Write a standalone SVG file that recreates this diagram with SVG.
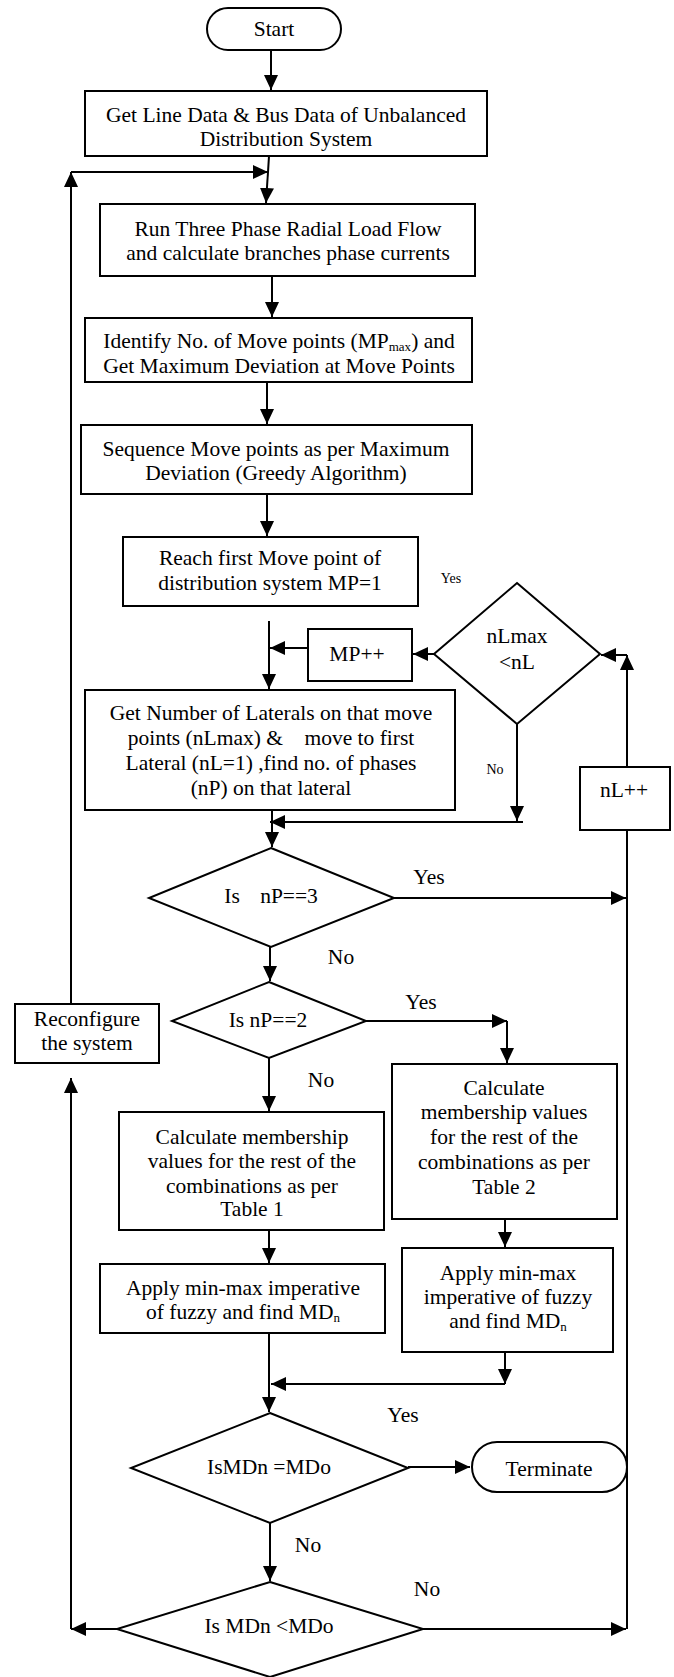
<svg xmlns="http://www.w3.org/2000/svg" width="674" height="1677" viewBox="0 0 674 1677">
<style>
.b{fill:#fff;stroke:#000;stroke-width:2}
.t{font-family:"Liberation Serif","Times New Roman",serif;font-size:21.5px;fill:#000;text-anchor:middle}
.s{font-family:"Liberation Serif","Times New Roman",serif;font-size:14px;fill:#000;text-anchor:middle}
.c{fill:none;stroke:#000;stroke-width:2}
.a{marker-end:url(#ah)}
</style>
<defs>
<marker id="ah" markerUnits="userSpaceOnUse" markerWidth="15" markerHeight="14" refX="15" refY="7" orient="auto">
<path d="M0,0 L15,7 L0,14 z" fill="#000"/>
</marker>
</defs>
<rect width="674" height="1677" fill="#fff"/>
<g id="connectors">
<line class="c a" x1="271" y1="50" x2="271" y2="90"/>
<line class="c a" x1="269" y1="156" x2="266" y2="203"/>
<line class="c a" x1="71" y1="1004" x2="71" y2="172"/>
<line class="c a" x1="71" y1="172" x2="268" y2="172"/>
<line class="c a" x1="272" y1="276" x2="272" y2="317"/>
<line class="c a" x1="267" y1="382" x2="267" y2="424"/>
<line class="c a" x1="267" y1="494" x2="267" y2="536"/>
<line class="c a" x1="269" y1="621" x2="269" y2="689"/>
<line class="c a" x1="308" y1="648" x2="270" y2="648"/>
<line class="c a" x1="434" y1="654" x2="413" y2="654"/>
<line class="c a" x1="627" y1="767" x2="627" y2="655"/>
<line class="c a" x1="627" y1="655" x2="601" y2="655"/>
<line class="c a" x1="517" y1="724" x2="517" y2="821"/>
<line class="c a" x1="523" y1="822" x2="270" y2="822"/>
<line class="c a" x1="272" y1="810" x2="272" y2="847"/>
<line class="c a" x1="394" y1="898" x2="626" y2="898"/>
<line class="c a" x1="270" y1="947" x2="270" y2="981"/>
<line class="c a" x1="366" y1="1021" x2="507" y2="1021"/>
<line class="c a" x1="507" y1="1021" x2="507" y2="1063"/>
<line class="c a" x1="269" y1="1058" x2="269" y2="1111"/>
<line class="c a" x1="269" y1="1230" x2="269" y2="1263"/>
<line class="c a" x1="505" y1="1219" x2="505" y2="1247"/>
<line class="c a" x1="505" y1="1352" x2="505" y2="1384"/>
<line class="c a" x1="505" y1="1384" x2="271" y2="1384"/>
<line class="c a" x1="269" y1="1333" x2="269" y2="1412"/>
<line class="c a" x1="408" y1="1467" x2="470" y2="1467"/>
<line class="c a" x1="270" y1="1523" x2="270" y2="1581"/>
<line class="c a" x1="117" y1="1629" x2="71" y2="1629"/>
<line class="c a" x1="423" y1="1629" x2="626" y2="1629"/>
<line class="c a" x1="71" y1="1629" x2="71" y2="1078"/>
<line class="c" x1="627" y1="1629" x2="627" y2="830"/>
</g>
<g id="start">
<rect class="b" x="207" y="8" width="134" height="42" rx="21"/>
<text class="t" x="274" y="36">Start</text>
</g>
<g id="getdata">
<rect class="b" x="85" y="91" width="402" height="65"/>
<text class="t" x="286" y="122">Get Line Data &amp; Bus Data of Unbalanced</text>
<text class="t" x="286" y="146">Distribution System</text>
</g>
<g id="loadflow">
<rect class="b" x="100" y="204" width="375" height="72"/>
<text class="t" x="288" y="236">Run Three Phase Radial Load Flow</text>
<text class="t" x="288" y="260">and calculate branches phase currents</text>
</g>
<g id="identify">
<rect class="b" x="85" y="318" width="387" height="64"/>
<text class="t" x="279" y="348">Identify No. of Move points (MP<tspan font-size="13" dy="3">max</tspan><tspan dy="-3">) and</tspan></text>
<text class="t" x="279" y="373">Get Maximum Deviation at Move Points</text>
</g>
<g id="sequence">
<rect class="b" x="81" y="425" width="391" height="69"/>
<text class="t" x="276" y="456">Sequence Move points as per Maximum</text>
<text class="t" x="276" y="480">Deviation (Greedy Algorithm)</text>
</g>
<g id="reach">
<rect class="b" x="123" y="537" width="295" height="69"/>
<text class="t" x="270" y="565">Reach first Move point of</text>
<text class="t" x="270" y="590">distribution system MP=1</text>
</g>
<g id="mpinc">
<rect class="b" x="308" y="629" width="104" height="52"/>
<text class="t" x="357" y="661">MP++</text>
</g>
<g id="nlmax">
<polygon class="b" points="517,583 600,654 517,724 434,654"/>
<text class="t" x="517" y="643">nLmax</text>
<text class="t" x="517" y="669">&lt;nL</text>
</g>
<g id="getlaterals">
<rect class="b" x="85" y="690" width="370" height="120"/>
<text class="t" x="271" y="720">Get Number of Laterals on that move</text>
<text class="t" x="271" y="745" xml:space="preserve">points (nLmax) &amp;    move to first</text>
<text class="t" x="271" y="770">Lateral (nL=1) ,find no. of phases</text>
<text class="t" x="271" y="795">(nP) on that lateral</text>
</g>
<g id="nlinc">
<rect class="b" x="580" y="767" width="90" height="63"/>
<text class="t" x="624" y="797">nL++</text>
</g>
<g id="np3">
<polygon class="b" points="271,848 394,898 271,947 149,898"/>
<text class="t" x="232" y="903">Is</text>
<text class="t" x="289" y="903">nP==3</text>
</g>
<g id="np2">
<polygon class="b" points="269,982 366,1021 269,1058 172,1021"/>
<text class="t" x="268" y="1027">Is nP==2</text>
</g>
<g id="reconfigure">
<rect class="b" x="15" y="1004" width="144" height="59"/>
<text class="t" x="87" y="1026">Reconfigure</text>
<text class="t" x="87" y="1050">the system</text>
</g>
<g id="table2">
<rect class="b" x="392" y="1064" width="225" height="155"/>
<text class="t" x="504" y="1095">Calculate</text>
<text class="t" x="504" y="1119">membership values</text>
<text class="t" x="504" y="1144">for the rest of the</text>
<text class="t" x="504" y="1169">combinations as per</text>
<text class="t" x="504" y="1194">Table 2</text>
</g>
<g id="table1">
<rect class="b" x="119" y="1112" width="265" height="118"/>
<text class="t" x="252" y="1144">Calculate membership</text>
<text class="t" x="252" y="1168">values for the rest of the</text>
<text class="t" x="252" y="1193">combinations as per</text>
<text class="t" x="252" y="1216">Table 1</text>
</g>
<g id="apply1">
<rect class="b" x="100" y="1264" width="285" height="69"/>
<text class="t" x="243" y="1295">Apply min-max imperative</text>
<text class="t" x="243" y="1319">of fuzzy and find MD<tspan font-size="13" dy="3">n</tspan></text>
</g>
<g id="apply2">
<rect class="b" x="402" y="1248" width="211" height="104"/>
<text class="t" x="508" y="1280">Apply min-max</text>
<text class="t" x="508" y="1304">imperative of fuzzy</text>
<text class="t" x="508" y="1328">and find MD<tspan font-size="13" dy="3">n</tspan></text>
</g>
<g id="mdeq">
<polygon class="b" points="270,1413 408,1468 270,1523 131,1468"/>
<text class="t" x="269" y="1474">IsMDn =MDo</text>
</g>
<g id="terminate">
<rect class="b" x="472" y="1442" width="155" height="50" rx="25"/>
<text class="t" x="549" y="1476">Terminate</text>
</g>
<g id="mdlt">
<polygon class="b" points="270,1582 423,1629 270,1677 117,1629"/>
<text class="t" x="269" y="1633">Is MDn &lt;MDo</text>
</g>
<g id="labels">
<text class="s" x="451" y="583">Yes</text>
<text class="s" x="495" y="774" font-size="13">No</text>
<text class="t" x="429" y="884">Yes</text>
<text class="t" x="341" y="964">No</text>
<text class="t" x="421" y="1009">Yes</text>
<text class="t" x="321" y="1087">No</text>
<text class="t" x="403" y="1422">Yes</text>
<text class="t" x="308" y="1552">No</text>
<text class="t" x="427" y="1596">No</text>
</g>
</svg>
